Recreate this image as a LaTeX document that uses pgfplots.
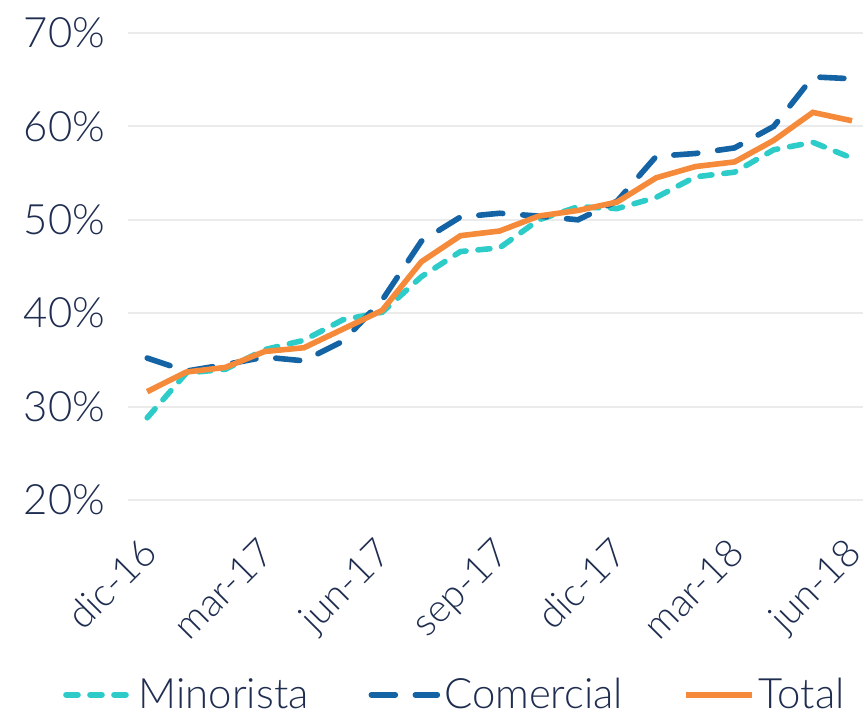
\documentclass[border=0pt]{standalone}
\usepackage{fontspec}
\setmainfont{Lato Light}
\usepackage{pgfplots}
\pgfplotsset{compat=1.18}
\usetikzlibrary{calc}
\definecolor{minor}{RGB}{46,204,201}
\definecolor{comer}{RGB}{20,100,165}
\definecolor{total}{RGB}{245,138,58}
\definecolor{txt}{RGB}{30,45,80}
\definecolor{gridc}{RGB}{235,235,235}
\begin{document}
\begin{tikzpicture}
\begin{axis}[
    name=ax,
    scale only axis,
    width=367.5bp, height=233.5bp,
    xmin=-0.49, xmax=18.28,
    ymin=20, ymax=70,
    ytick={20,30,...,70},
    yticklabel={\pgfmathprintnumber{\tick}\%},
    /pgf/number format/assume math mode=true,
    xtick={0,3,...,18},
    xticklabels={dic-16,mar-17,jun-17,sep-17,dic-17,mar-18,jun-18},
    tick label style={font=\fontsize{21}{24}\selectfont, text=txt},
    x tick label style={yshift=-13bp, xshift=-4bp, rotate=45, anchor=north east,
        font=\fontsize{19.5}{22}\selectfont},
    y tick label style={xshift=-8bp},
    axis line style={draw=none},
    tick style={draw=none},
    major tick length=0pt,
    xmajorgrids=false,
    ymajorgrids, grid style={draw=gridc, line width=1bp},
    legend style={at={(0.446,-0.417)}, anchor=center, draw=none, fill=none,
        font=\fontsize{21}{24}\selectfont, text=txt, legend columns=3,
        /tikz/every even column/.append style={column sep=28bp}},
    legend image code/.code={\draw[#1] (0bp,0bp) -- (33bp,0bp);},
]
\addplot[minor, line width=2.8bp, line cap=round, dash pattern=on 6bp off 6bp] coordinates {
(0,28.8) (1,33.6) (2,34.0) (3,36.1) (4,37.1) (5,39.3) (6,40.1) (7,43.9) (8,46.6) (9,47.0)
(10,50.0) (11,51.4) (12,51.2) (13,52.4) (14,54.6) (15,55.1) (16,57.5) (17,58.3) (18,56.6)};
\addlegendentry{Minorista}
\addplot[comer, line width=2.8bp, line cap=round, dash pattern=on 12bp off 10bp] coordinates {
(0,35.2) (1,33.8) (2,34.5) (3,35.3) (4,34.9) (5,37.0) (6,41.4) (7,47.7) (8,50.3) (9,50.7)
(10,50.4) (11,50.0) (12,52.0) (13,56.8) (14,57.1) (15,57.7) (16,60.0) (17,65.3) (18,65.1)};
\addlegendentry{Comercial}
\addplot[total, line width=2.8bp] coordinates {
(0,31.6) (1,33.7) (2,34.2) (3,35.9) (4,36.3) (5,38.3) (6,40.3) (7,45.5) (8,48.3) (9,48.8)
(10,50.4) (11,51.0) (12,51.9) (13,54.5) (14,55.7) (15,56.2) (16,58.5) (17,61.5) (18,60.6)};
\addlegendentry{Total}
\end{axis}
\pgfresetboundingbox
\path ($(ax.south west)+(-64bp,250bp)$) rectangle ($(ax.south west)+(367.5bp,-107.5bp)$);
\end{tikzpicture}
\end{document}
